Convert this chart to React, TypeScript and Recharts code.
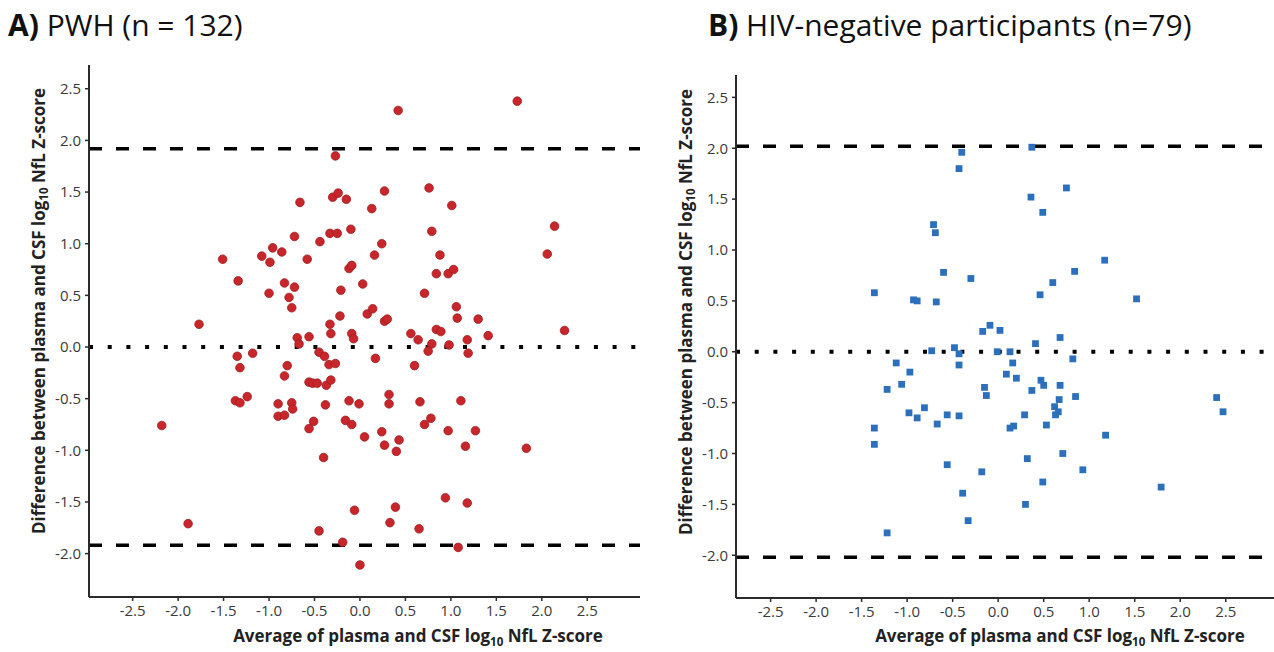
import { ScatterChart, Scatter, XAxis, YAxis, ReferenceLine } from "recharts";

// Panel A: people with HIV (n = 132)
const pwhAvg = [
  -1.77, -1.51, -1.34, -1.08, -0.99, -0.96, -0.86, -1.0, -0.83, -0.72, -0.78, -0.75, -0.72, -0.66, -0.58, -0.44,
  -0.33, -0.25, -0.3, -0.24, -0.15, -0.69, -0.67, -0.56, -0.33, -0.32, 0.42, 1.73, -0.27, 0.27, 0.76, 1.01,
  0.13, -0.1, 0.79, 0.24, 2.14, 0.16, 0.88, 2.06, -0.12, -0.09, 0.84, 0.97, 1.03, -0.21, 0.03, 0.71,
  1.06, -0.22, 0.08, 0.14, 0.27, 0.3, 1.07, 1.3, 2.25, -0.09, -0.07, 0.56, 0.64, 0.84, 0.89, 1.18,
  1.41, 0.79, 0.98, 0.75, 1.19, -0.45, -0.39, 0.17, -1.35, -1.18, -1.32, -0.8, -0.83, -1.37, -1.32, -1.24,
  -0.9, -0.75, -0.74, -0.9, -0.83, -0.56, -0.52, -0.47, -0.37, -0.38, -0.51, -0.56, -0.4, -2.18, -1.89, -0.45,
  -0.34, -0.27, 0.6, -0.32, -0.12, -0.01, 0.32, 0.32, 0.66, 1.11, -0.16, -0.09, 0.05, 0.24, 0.27, 0.43,
  0.4, 0.71, 0.78, 0.97, 1.27, 1.16, 1.83, 0.94, 1.18, -0.06, 0.39, 0.33, 0.65, -0.19, 1.08, 0.0,
];
const pwhDiff = [
  0.22, 0.85, 0.64, 0.88, 0.82, 0.96, 0.92, 0.52, 0.62, 0.58, 0.48, 0.38, 1.07, 1.4, 0.85, 1.02,
  1.1, 1.1, 1.45, 1.49, 1.43, 0.09, 0.03, 0.1, 0.22, 0.13, 2.29, 2.38, 1.85, 1.51, 1.54, 1.37,
  1.34, 1.14, 1.12, 1.0, 1.17, 0.89, 0.89, 0.9, 0.76, 0.79, 0.71, 0.71, 0.75, 0.55, 0.61, 0.52,
  0.39, 0.3, 0.32, 0.37, 0.25, 0.27, 0.28, 0.27, 0.16, 0.13, 0.08, 0.13, 0.07, 0.17, 0.15, 0.07,
  0.11, 0.03, 0.02, -0.04, -0.06, -0.05, -0.09, -0.11, -0.09, -0.06, -0.2, -0.18, -0.28, -0.52, -0.54, -0.48,
  -0.55, -0.54, -0.6, -0.67, -0.66, -0.34, -0.35, -0.35, -0.37, -0.56, -0.72, -0.79, -1.07, -0.76, -1.71, -1.78,
  -0.17, -0.16, -0.18, -0.32, -0.52, -0.55, -0.46, -0.55, -0.53, -0.52, -0.71, -0.75, -0.87, -0.82, -0.95, -0.9,
  -1.01, -0.75, -0.69, -0.81, -0.81, -0.96, -0.98, -1.46, -1.51, -1.58, -1.55, -1.7, -1.76, -1.89, -1.94, -2.11,
];

// Panel B: HIV-negative participants (n = 79)
const negAvg = [
  -0.4, -0.43, -0.71, -0.69, -0.6, -1.36, -0.93, -0.89, -0.68, -0.3, -0.73, -0.48, -0.43, 0.37, 0.75, 0.36,
  0.49, 1.17, 0.84, 0.6, 0.46, 1.52, -0.17, -0.09, 0.02, 0.68, 0.41, -0.01, 0.13, 0.82, -0.43, -1.12,
  -0.97, -1.22, -1.06, -0.98, -0.89, -0.81, -0.67, -0.56, -0.43, -1.36, -1.36, -0.56, -0.39, -0.33, -1.22, 0.16,
  0.09, 0.2, -0.15, -0.13, 0.37, 0.47, 0.5, 0.68, 0.85, 0.67, 0.62, 0.66, 0.63, 0.29, 0.13, 0.17,
  0.53, 1.18, 2.4, 2.47, 0.71, 0.32, -0.18, 0.93, 0.49, 1.79, 0.3,
];
const negDiff = [
  1.96, 1.8, 1.25, 1.17, 0.78, 0.58, 0.51, 0.5, 0.49, 0.72, 0.01, 0.04, -0.02, 2.01, 1.61, 1.52,
  1.37, 0.9, 0.79, 0.68, 0.56, 0.52, 0.2, 0.26, 0.21, 0.14, 0.08, 0.0, 0.0, -0.07, -0.13, -0.11,
  -0.2, -0.37, -0.32, -0.6, -0.65, -0.55, -0.71, -0.62, -0.63, -0.75, -0.91, -1.11, -1.39, -1.66, -1.78, -0.11,
  -0.22, -0.26, -0.35, -0.43, -0.38, -0.28, -0.33, -0.33, -0.44, -0.47, -0.54, -0.59, -0.62, -0.62, -0.75, -0.73,
  -0.72, -0.82, -0.45, -0.59, -1.0, -1.05, -1.18, -1.16, -1.28, -1.33, -1.5,
];

// limits of agreement (mean difference = 0)
const pwhLimit = 1.92;
const negLimit = 2.02;

const xTicks = [-2.5, -2, -1.5, -1, -0.5, 0, 0.5, 1, 1.5, 2, 2.5];
const yTicks = [-2, -1.5, -1, -0.5, 0, 0.5, 1, 1.5, 2, 2.5];

const FONT = "'Open Sans', sans-serif";
const AXIS = "#2b2b2b";

const pwhData = pwhAvg.map((x, i) => ({ x, y: pwhDiff[i] }));
const negData = negAvg.map((x, i) => ({ x, y: negDiff[i] }));

const tickStyle = { fontSize: 15, fill: "#3a3a3a", fontFamily: FONT };
const fmt = (v: number) => v.toFixed(1);

const Dot = (props: any) => (
  <circle cx={props.cx} cy={props.cy} r={4.3} fill="#c8262b" stroke="#a01d20" strokeWidth={0.8} />
);
const Square = (props: any) => (
  <rect x={props.cx - 3.4} y={props.cy - 3.4} width={6.8} height={6.8} fill="#2c70bd" />
);

interface PanelProps {
  data: { x: number; y: number }[];
  limit: number;
  xDomain: [number, number];
  yDomain: [number, number];
  width: number;
  top: number;
  yAxisWidth: number;
  xAxisHeight: number;
  right: number;
  shape: (p: any) => any;
}

function Panel({ data, limit, xDomain, yDomain, width, top, yAxisWidth, xAxisHeight, right, shape }: PanelProps) {
  return (
    <ScatterChart width={width} height={652} margin={{ top, right, bottom: 0, left: 0 }}>
      <XAxis
        type="number"
        dataKey="x"
        domain={xDomain}
        ticks={xTicks}
        tickFormatter={fmt}
        height={xAxisHeight}
        tick={tickStyle}
        tickSize={4}
        tickMargin={4}
        axisLine={{ stroke: AXIS, strokeWidth: 2 }}
        tickLine={{ stroke: AXIS, strokeWidth: 1.5 }}
        allowDataOverflow
      />
      <YAxis
        type="number"
        dataKey="y"
        domain={yDomain}
        ticks={yTicks}
        tickFormatter={fmt}
        width={yAxisWidth}
        tick={tickStyle}
        tickSize={4}
        tickMargin={4}
        axisLine={{ stroke: AXIS, strokeWidth: 2 }}
        tickLine={{ stroke: AXIS, strokeWidth: 1.5 }}
        allowDataOverflow
      />
      <ReferenceLine y={limit} stroke="#000" strokeWidth={3.5} strokeDasharray="13 14" />
      <ReferenceLine y={0} stroke="#000" strokeWidth={4} strokeDasharray="4 14.7" />
      <ReferenceLine y={-limit} stroke="#000" strokeWidth={3.5} strokeDasharray="13 14" />
      <Scatter data={data} shape={shape} isAnimationActive={false} />
    </ScatterChart>
  );
}

function YTitle({ x, y }: { x: number; y: number }) {
  return (
    <text
      transform={`translate(${x},${y}) rotate(-90)`}
      textAnchor="middle"
      dominantBaseline="central"
      fontFamily={FONT}
      fontWeight={700}
      fontSize={17}
      fill="#222"
    >
      Difference between plasma and CSF log
      <tspan fontSize={11.5} dy={5}>10</tspan>
      <tspan dy={-5}> NfL Z-score</tspan>
    </text>
  );
}

function XTitle({ x, y }: { x: number; y: number }) {
  return (
    <text x={x} y={y} textAnchor="middle" fontFamily={FONT} fontWeight={700} fontSize={17} fill="#222">
      Average of plasma and CSF log
      <tspan fontSize={11.5} dy={4}>10</tspan>
      <tspan dy={-4}> NfL Z-score</tspan>
    </text>
  );
}

export default function App() {
  return (
    <div style={{ position: "absolute", left: 0, top: 0, width: 1274, height: 652, background: "#fff" }}>
      <div style={{ position: "absolute", left: 0, top: 0 }}>
        <Panel
          data={pwhData}
          limit={pwhLimit}
          xDomain={[-2.98, 3.08]}
          yDomain={[-2.42, 2.73]}
          width={645}
          top={65}
          right={5}
          yAxisWidth={89}
          xAxisHeight={55}
          shape={Dot}
        />
      </div>
      <div style={{ position: "absolute", left: 650, top: 0 }}>
        <Panel
          data={negData}
          limit={negLimit}
          xDomain={[-2.88, 3.03]}
          yDomain={[-2.42, 2.72]}
          width={624}
          top={75}
          right={0}
          yAxisWidth={86}
          xAxisHeight={54}
          shape={Square}
        />
      </div>
      <svg
        width={1274}
        height={652}
        style={{ position: "absolute", left: 0, top: 0, pointerEvents: "none" }}
      >
        <text x={8} y={36} fontFamily={FONT} fontSize={30} fill="#111">
          <tspan fontWeight={700}>A)</tspan> PWH (n = 132)
        </text>
        <text x={708} y={36} fontFamily={FONT} fontSize={30} fill="#111">
          <tspan fontWeight={700}>B)</tspan> HIV-negative participants (n=79)
        </text>
        <YTitle x={38} y={311} />
        <YTitle x={685} y={312} />
        <XTitle x={418} y={642} />
        <XTitle x={1060} y={642} />
      </svg>
    </div>
  );
}
